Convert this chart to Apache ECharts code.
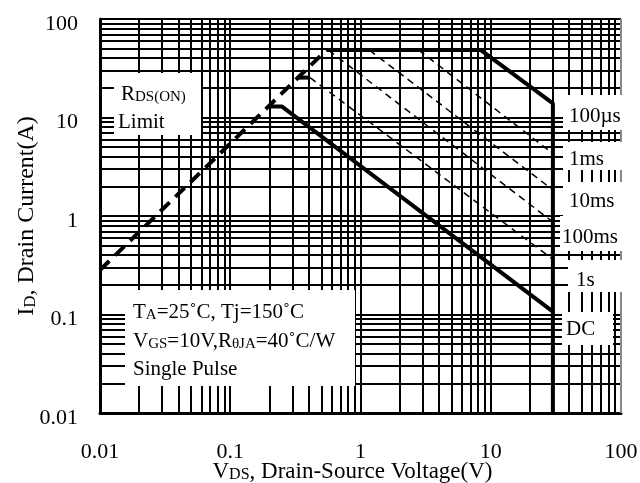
<!DOCTYPE html>
<html><head><meta charset="utf-8">
<script src="https://cdn.jsdelivr.net/npm/echarts@6/dist/echarts.min.js"></script>
<style>html,body{margin:0;padding:0;background:#fff}#c{width:640px;height:483px}</style>
</head><body><div id="c"></div>
<script>
// ---- data ----
const xTickLabels = ['0.01', '0.1', '1', '10', '100'];
const yTickLabels = ['0.01', '0.1', '1', '10', '100'];
const decades = [0.01, 0.1, 1, 10];
const gridMultipliers = [1, 2, 3, 4, 5, 6, 7, 8, 9];
const rdsLimit = [[0.01, 0.283], [0.548, 48.4]];
const pulse100us = [[0.548, 48.4], [8.4, 48.4], [30, 13.9], [30, 0.01]];
const pulse1ms = [[2.8, 48.4], [30, 4.3]];
const pulse10ms = [[1.17, 48.4], [30, 1.84]];
const pulse100ms = [[0.567, 48.4], [30, 0.87]];
const pulse1sFlat = [[0.332, 25.4], [0.41, 25.4]];
const pulse1s = [[0.41, 25.4], [30, 0.363]];
const dcLine = [[0.196, 12.9], [0.25, 12.9], [30, 0.107]];

const FONT = '"Liberation Serif", "Times New Roman", serif';
const gridVals = [];
decades.forEach(d => gridMultipliers.forEach(m => gridVals.push(+(d * m).toPrecision(3))));

const chart = echarts.init(document.getElementById('c'), null, {renderer: 'canvas'});

function lbl(arr) {
  return v => { const i = Math.round(Math.log10(v)) + 2; return arr[i] !== undefined ? arr[i] : ''; };
}
function lineSeries(name, data, width, type, dash) {
  return {
    name, type: 'line', data, showSymbol: false, symbol: 'none', silent: true, z: 5,
    animation: false,
    lineStyle: {color: '#000', width, type: type === 'dashed' ? dash : 'solid', cap: 'butt'}
  };
}
const gridLines = [];
gridVals.forEach(v => { if (v > 0.01) gridLines.push({xAxis: v}); });
gridVals.forEach(v => { if (v > 0.01) gridLines.push({yAxis: v}); });
gridLines.push({yAxis: 100, lineStyle: {color: '#000', width: 2}});
gridLines.push({xAxis: 100, lineStyle: {color: '#888', width: 2}});

const sub = {fontSize: 15, fontFamily: FONT, color: '#000', verticalAlign: 'bottom'};
const big = {fontSize: 21, fontFamily: FONT, color: '#000', verticalAlign: 'bottom'};

function box(x, y, w, h) {
  return {type: 'rect', z: 100, zlevel: 0, shape: {x, y, width: w, height: h}, style: {fill: '#fff'}, silent: true};
}
function txt(x, y, text, rich) {
  return {type: 'text', z: 101, x, y, silent: true,
    style: {text, rich, fill: '#000', font: '21px ' + FONT, verticalAlign: 'middle', align: 'left'}};
}

const option = {
  animation: false,
  backgroundColor: '#fff',
  grid: {left: 100, top: 19, width: 521, height: 394, containLabel: false, outerBoundsMode: 'none'},
  xAxis: {
    type: 'log', logBase: 10, min: 0.01, max: 100,
    name: '{a|V}{b|DS}{a|, Drain-Source Voltage(V)}',
    nameLocation: 'middle', nameGap: 47, nameMoveOverlap: false,
    nameTextStyle: {padding: [0, 16, 0, 0], rich: {a: {fontSize: 23, fontFamily: FONT, color: '#000', verticalAlign: 'bottom'}, b: {fontSize: 16, fontFamily: FONT, color: '#000', verticalAlign: 'bottom'}}},
    axisLine: {show: true, lineStyle: {color: '#000', width: 3}},
    axisTick: {show: false},
    splitLine: {show: false},
    axisLabel: {formatter: lbl(xTickLabels), fontSize: 22, fontFamily: FONT, color: '#000', margin: 28}
  },
  yAxis: {
    type: 'log', logBase: 10, min: 0.01, max: 100,
    name: '{a|I}{b|D}{a|, Drain Current(A)}',
    nameLocation: 'middle', nameGap: 61, nameRotate: 90, nameMoveOverlap: false,
    nameTextStyle: {rich: {a: {fontSize: 24, fontFamily: FONT, color: '#000', verticalAlign: 'bottom'}, b: {fontSize: 17, fontFamily: FONT, color: '#000', verticalAlign: 'bottom'}}},
    axisLine: {show: true, lineStyle: {color: '#000', width: 3}},
    axisTick: {show: false},
    splitLine: {show: false},
    axisLabel: {formatter: lbl(yTickLabels), fontSize: 22, fontFamily: FONT, color: '#000', margin: 22, verticalAlign: 'top', lineHeight: 10}
  },
  series: [
    {
      name: 'grid', type: 'line', data: [[1, 1]], showSymbol: false, symbol: 'none', silent: true, z: 1,
      lineStyle: {opacity: 0},
      markLine: {silent: true, symbol: ['none', 'none'], animation: false, label: {show: false},
        lineStyle: {color: '#000', width: 2, type: 'solid'}, emphasis: {disabled: true}, data: gridLines}
    },
    lineSeries('RDS(ON) Limit', rdsLimit, 4, 'dashed', [13, 8]),
    lineSeries('100us', pulse100us, 4, 'solid'),
    lineSeries('1ms', pulse1ms, 1.5, 'dashed', [7, 5]),
    lineSeries('10ms', pulse10ms, 1.5, 'dashed', [7, 5]),
    lineSeries('100ms', pulse100ms, 1.5, 'dashed', [7, 5]),
    lineSeries('1s flat', pulse1sFlat, 4, 'solid'),
    lineSeries('1s', pulse1s, 1.5, 'dashed', [7, 5]),
    lineSeries('DC', dcLine, 4, 'solid')
  ],
  graphic: {
    elements: [
      box(114, 73, 87, 62),
      txt(121, 94, '{a|R}{b|DS(ON)}', {a: big, b: sub}),
      txt(118, 122, 'Limit', {}),
      box(563, 95, 60, 35),
      txt(569, 116, '100µs', {}),
      box(563, 142, 60, 28),
      txt(569, 159, '1ms', {}),
      box(563, 182, 60, 34),
      txt(569, 201, '10ms', {}),
      box(560, 216, 63, 35),
      txt(562, 237, '100ms', {}),
      box(568, 260, 55, 32),
      txt(576, 280, '1s', {}),
      box(562, 312, 51, 33),
      txt(566, 329, 'DC', {}),
      box(125, 290, 230, 96),
      txt(133, 312, '{a|T}{b|A}{a|=25˚C, Tj=150˚C}', {a: big, b: sub}),
      txt(133, 341, '{a|V}{b|GS}{a|=10V,R}{b|θJA}{a|=40˚C/W}', {a: big, b: sub}),
      txt(133, 369, 'Single Pulse', {})
    ]
  }
};
chart.setOption(option);
</script>
</body></html>
